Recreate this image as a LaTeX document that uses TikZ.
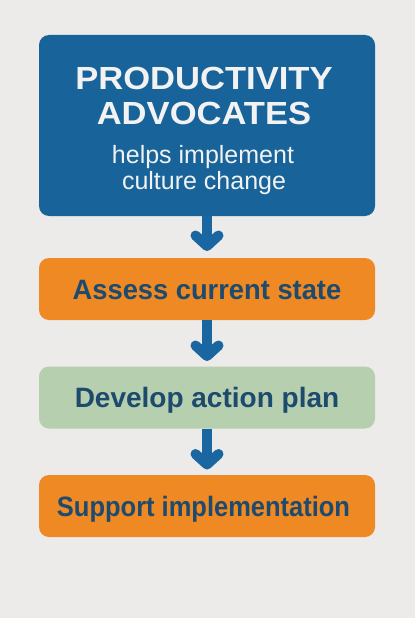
\documentclass[tikz,border=0pt]{standalone}
\usepackage{fontspec}
\setmainfont{Liberation Sans}
\definecolor{bg}{HTML}{ECEBE9}
\definecolor{blueb}{HTML}{18639A}
\definecolor{arrowb}{HTML}{1A66A0}
\definecolor{orangeb}{HTML}{EE8924}
\definecolor{greenb}{HTML}{B6CFAF}
\definecolor{darktext}{HTML}{1E4A6E}
\definecolor{lighttext}{HTML}{F2F2F2}
\tikzset{
  box/.style={rounded corners=10pt, minimum width=336pt, inner sep=0pt, outer sep=0pt},
  stepbox/.style={box, minimum height=62pt, text=darktext, font=\fontsize{28}{28}\selectfont\bfseries, text height=20pt, text depth=0pt},
  titletext/.style={anchor=base, text=lighttext, font=\fontsize{32}{32}\selectfont\bfseries, inner sep=0pt},
  subtext/.style={anchor=base, text=lighttext, font=\fontsize{25}{25}\selectfont, inner sep=0pt},
  shaft/.style={draw=arrowb, line width=10pt},
  chev/.style={draw=arrowb, line width=10pt, line cap=round, line join=round}
}
\begin{document}
\begin{tikzpicture}[x=1pt,y=-1pt]
\fill[bg] (0,0) rectangle (415,618);
\useasboundingbox (0,0) rectangle (415,618);
% boxes
\node[box, fill=blueb, minimum height=181pt] (adv) at (207,125.5) {};
\node[stepbox, fill=orangeb] (assess) at (207,289) {\scalebox{0.975}[1]{Assess current state}};
\node[stepbox, fill=greenb] (develop) at (207,397.5) {Develop action plan};
\node[stepbox, fill=orangeb] (support) at (207,506) {\hspace*{-7pt}\scalebox{0.91}[1]{Support implementation}};
% title text
\node[titletext] (t1) at (204,89) {\scalebox{1.08}[1]{PRODUCTIVITY}};
\node[titletext] (t2) at (204,124.5) {\scalebox{1.08}[1]{ADVOCATES}};
\node[subtext] (s1) at (203,163.3) {helps implement};
\node[subtext] (s2) at (204,189.3) {culture change};
% arrows
\coordinate (c1) at (207,246);
\coordinate (c2) at (207,356);
\coordinate (c3) at (207,464.5);
\draw[shaft] (adv.south) -- (c1);
\draw[chev] ([shift={(-11.5,-10.5)}]c1) -- (c1) -- ([shift={(11.5,-10.5)}]c1);
\draw[shaft] (assess.south) -- (c2);
\draw[chev] ([shift={(-11.5,-10.5)}]c2) -- (c2) -- ([shift={(11.5,-10.5)}]c2);
\draw[shaft] (develop.south) -- (c3);
\draw[chev] ([shift={(-11.5,-10.5)}]c3) -- (c3) -- ([shift={(11.5,-10.5)}]c3);
\end{tikzpicture}
\end{document}
